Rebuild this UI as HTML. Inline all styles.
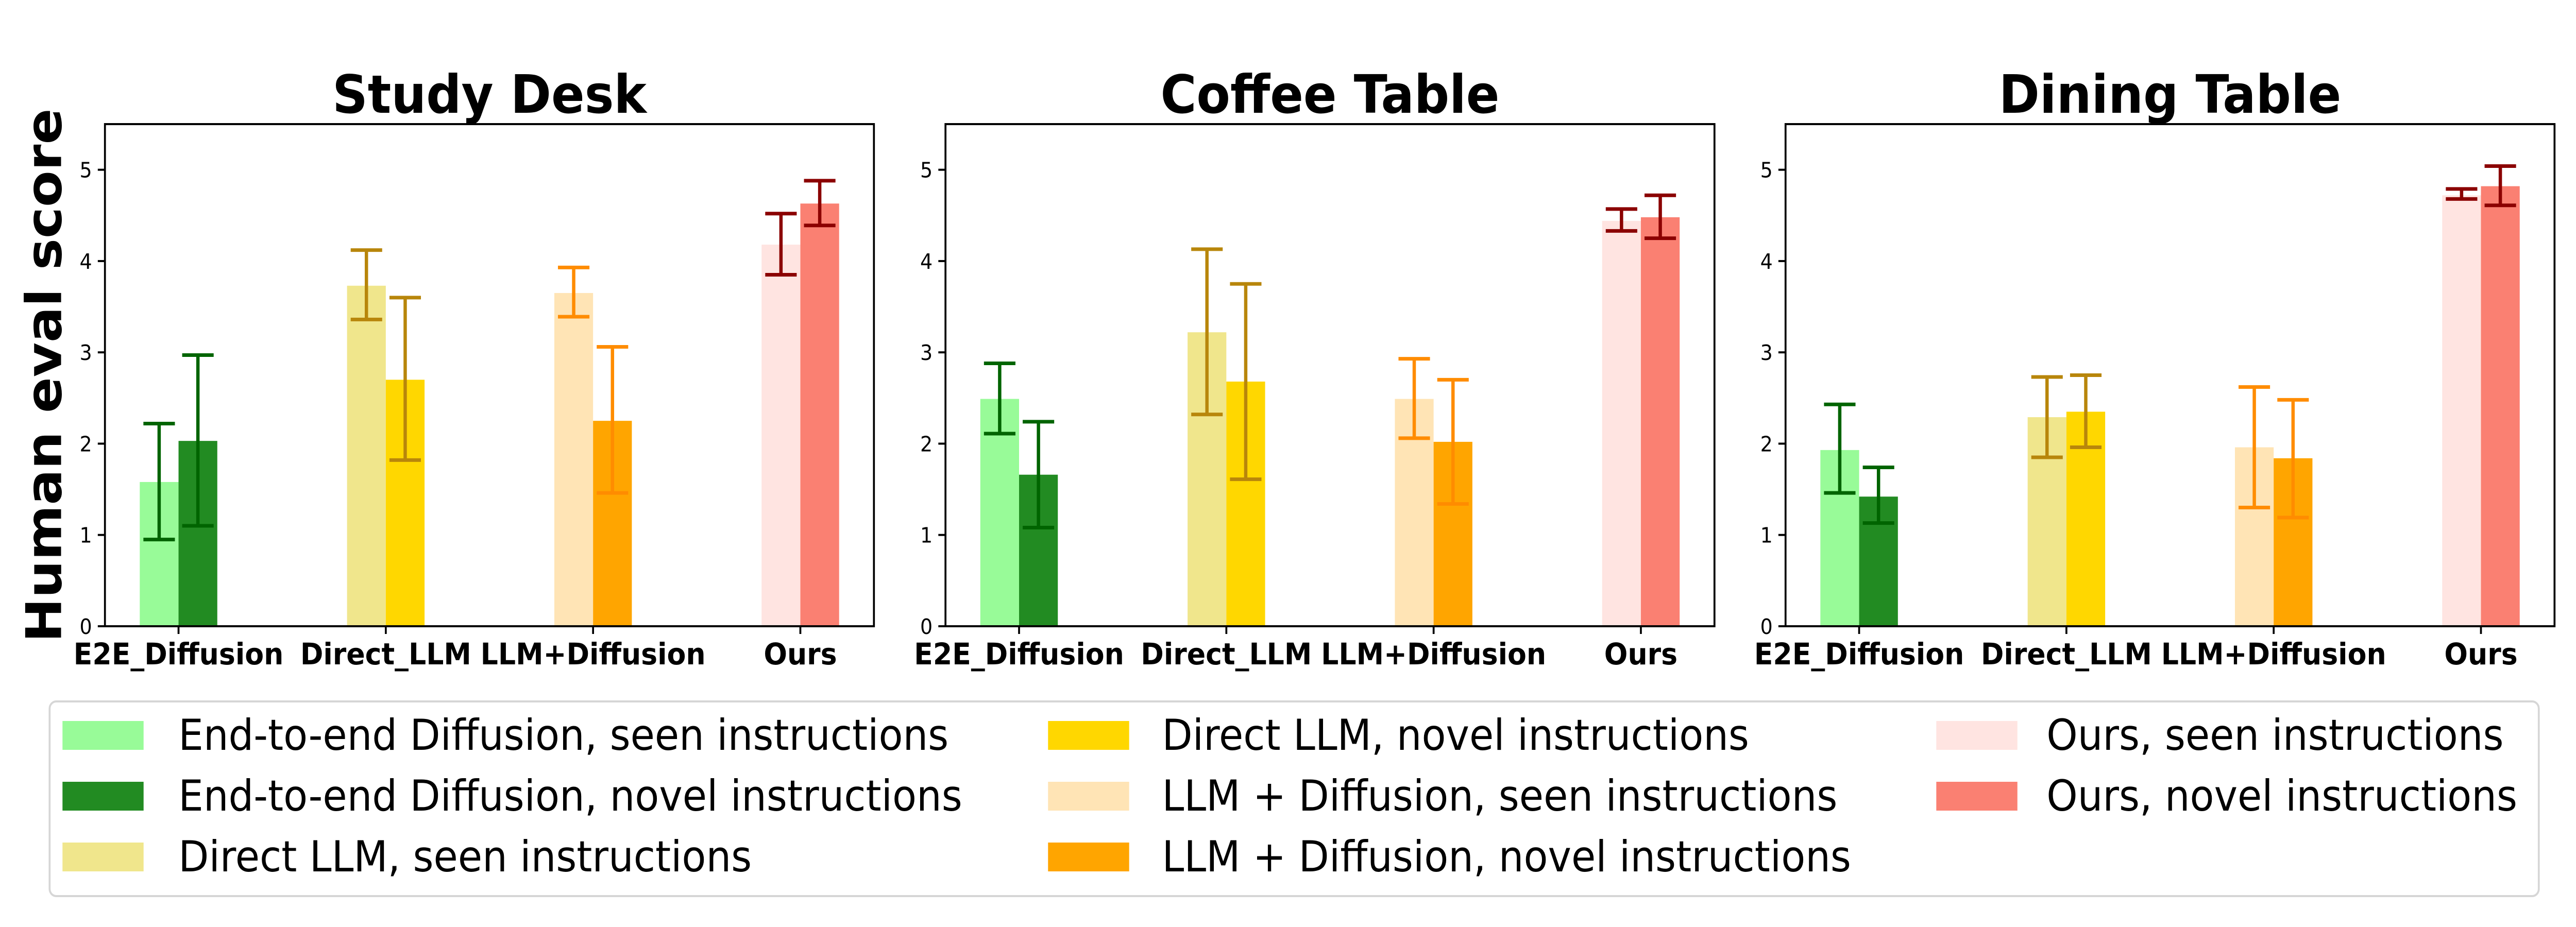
<!DOCTYPE html>
<html><head><meta charset="utf-8">
<style>
html,body{margin:0;padding:0;background:#fff;overflow:hidden;width:100%;height:100%;}
svg{display:block;font-family:"DejaVu Sans","Liberation Sans",sans-serif;width:100vw;height:100vh;}
</style></head>
<body>
<svg id="chart" viewBox="0 0 5400 1800" preserveAspectRatio="none" xmlns="http://www.w3.org/2000/svg">
<rect x="0" y="0" width="5400" height="1800" fill="#fff"/>
<text transform="translate(128,729) rotate(-90)" text-anchor="middle" font-size="103" font-weight="bold">Human eval score</text>
<g id="panels"></g>
<g id="legend"></g>
</svg>
<script>
const panelTitles = ["Study Desk", "Coffee Table", "Dining Table"];
const categories = ["E2E_Diffusion", "Direct_LLM", "LLM+Diffusion", "Ours"];
const yTicks = [0, 1, 2, 3, 4, 5];
// seen / novel means per panel
const seenValues = [
  [1.58, 3.73, 3.65, 4.18],
  [2.49, 3.22, 2.49, 4.44],
  [1.93, 2.29, 1.96, 4.72]
];
const novelValues = [
  [2.03, 2.70, 2.25, 4.63],
  [1.66, 2.68, 2.02, 4.48],
  [1.42, 2.35, 1.84, 4.82]
];
// error bar lower / upper ends
const seenLow = [
  [0.95, 3.36, 3.39, 3.85],
  [2.11, 2.32, 2.06, 4.33],
  [1.46, 1.85, 1.30, 4.68]
];
const seenHigh = [
  [2.22, 4.12, 3.93, 4.52],
  [2.88, 4.13, 2.93, 4.57],
  [2.43, 2.73, 2.62, 4.79]
];
const novelLow = [
  [1.10, 1.82, 1.46, 4.39],
  [1.08, 1.61, 1.34, 4.25],
  [1.13, 1.96, 1.19, 4.61]
];
const novelHigh = [
  [2.97, 3.60, 3.06, 4.88],
  [2.24, 3.75, 2.70, 4.72],
  [1.74, 2.75, 2.48, 5.04]
];
const seenColors = ["#98FB98", "#F0E68C", "#FFE4B5", "#FFE4E1"];
const novelColors = ["#228B22", "#FFD700", "#FFA500", "#FA8072"];
const errColors = ["#006400", "#B8860B", "#FF8C00", "#8B0000"];
const legendLabels = [
  "End-to-end Diffusion, seen instructions",
  "End-to-end Diffusion, novel instructions",
  "Direct LLM, seen instructions",
  "Direct LLM, novel instructions",
  "LLM + Diffusion, seen instructions",
  "LLM + Diffusion, novel instructions",
  "Ours, seen instructions",
  "Ours, novel instructions"
];
const legendColors = ["#98FB98", "#228B22", "#F0E68C", "#FFD700", "#FFE4B5", "#FFA500", "#FFE4E1", "#FA8072"];

const NS = "http://www.w3.org/2000/svg";
function mk(tag, attrs, parent) {
  const e = document.createElementNS(NS, tag);
  for (const k in attrs) e.setAttribute(k, attrs[k]);
  parent.appendChild(e);
  return e;
}
const panelLefts = [220, 1982, 3743];
const PW = 1612, TOP = 241, BOT = 1216;
const XMIN = -0.355, XMAX = 3.355, YMAX = 5.5, BARW = 0.187;
const root = document.getElementById("panels");

panelTitles.forEach((title, p) => {
  const L = panelLefts[p];
  const xs = v => L + (v - XMIN) / (XMAX - XMIN) * PW;
  const ys = v => BOT - v / YMAX * (BOT - TOP);
  const g = mk("g", {}, root);
  
  
  const t = mk("text", {x: L + PW / 2, y: 219, "text-anchor": "middle", "font-size": 103, "font-weight": "bold"}, g);
  t.textContent = title;
  
  

  categories.forEach((cat, i) => {
    const x0 = xs(i - BARW), xc = xs(i), x1 = xs(i + BARW);
    const b1 = mk("rect", {x: x0, y: ys(seenValues[p][i]), width: xc - x0, height: ys(0) - ys(seenValues[p][i]), fill: seenColors[i]}, g);
    
    
    const b2 = mk("rect", {x: xc, y: ys(novelValues[p][i]), width: x1 - xc, height: ys(0) - ys(novelValues[p][i]), fill: novelColors[i]}, g);
    
    
    [[xs(i - BARW / 2), seenLow[p][i], seenHigh[p][i], 'seen'], [xs(i + BARW / 2), novelLow[p][i], novelHigh[p][i], 'novel']].forEach(([cx, lo, hi, kind]) => {
      const eg = mk("g", {stroke: errColors[i], "stroke-width": 7, fill: "none"}, g);
      
      
      mk("line", {x1: cx, x2: cx, y1: ys(lo), y2: ys(hi)}, eg);
      mk("line", {x1: cx - 33, x2: cx + 33, y1: ys(lo), y2: ys(lo)}, eg);
      mk("line", {x1: cx - 33, x2: cx + 33, y1: ys(hi), y2: ys(hi)}, eg);
    });
    const tk = mk("line", {x1: xc, x2: xc, y1: BOT, y2: BOT + 15, stroke: "#000", "stroke-width": 4}, g);
    
    
    const tl = mk("text", {x: xc, y: 1290, "text-anchor": "middle", "font-size": 58, "font-weight": "bold"}, g);
    tl.textContent = cat;
    
    
  });

  yTicks.forEach(v => {
    const tk = mk("line", {x1: L - 15, x2: L, y1: ys(v), y2: ys(v), stroke: "#000", "stroke-width": 4}, g);
    
    
    const tl = mk("text", {x: L - 27, y: ys(v) + 15, "text-anchor": "end", "font-size": 41}, g);
    tl.textContent = v;
    
    
  });

  const frame = mk("rect", {x: L, y: TOP, width: PW, height: BOT - TOP, fill: "none", stroke: "#000", "stroke-width": 4}, g);
  
  
});

const lg = document.getElementById("legend");
const lbox = mk("rect", {x: 104, y: 1362, width: 5218, height: 378, rx: 14, fill: "#fff", stroke: "#d6d6d6", "stroke-width": 4}, lg);


const colSw = [131, 2197, 4059], colTx = [374, 2436, 4290], rowY = [1400, 1518, 1636];
const order = [[0, 1, 2], [3, 4, 5], [6, 7]];
order.forEach((col, c) => col.forEach((idx, r) => {
  const eg = mk("g", {}, lg);
  
  
  mk("rect", {x: colSw[c], y: rowY[r], width: 170, height: 56, fill: legendColors[idx]}, eg);
  const t = mk("text", {x: colTx[c], y: rowY[r] + 56, "font-size": 83}, eg);
  t.textContent = legendLabels[idx];
}));
</script>
</body></html>
